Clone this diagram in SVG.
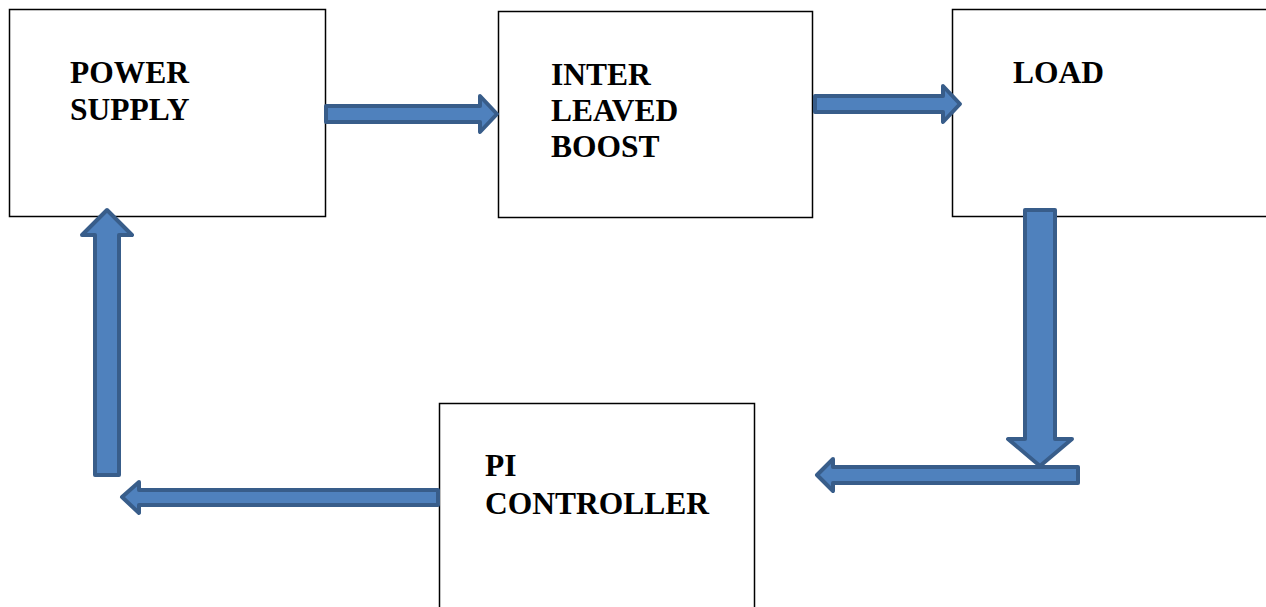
<svg xmlns="http://www.w3.org/2000/svg" width="1266" height="607" viewBox="0 0 1266 607">
  <style>
    .box { fill: #ffffff; stroke: #000000; stroke-width: 1.5; }
    .lbl { font-family: "Liberation Serif", "Times New Roman", serif; font-weight: bold; font-size: 31.5px; fill: #000000; }
    .arrow { fill: #4f81bd; stroke: #385d8a; stroke-width: 4; stroke-linejoin: round; }
  </style>
  <rect width="1266" height="607" fill="#ffffff"/>

  <g id="power-supply">
    <rect class="box" x="9.5" y="9.5" width="316" height="207"/>
    <text class="lbl" x="70" y="83">POWER</text>
    <text class="lbl" x="70" y="120">SUPPLY</text>
  </g>

  <g id="interleaved-boost">
    <rect class="box" x="498.5" y="11.5" width="314" height="206"/>
    <text class="lbl" x="551" y="85">INTER</text>
    <text class="lbl" x="551" y="121">LEAVED</text>
    <text class="lbl" x="551" y="157">BOOST</text>
  </g>

  <g id="load">
    <rect class="box" x="952.5" y="9.5" width="330" height="207"/>
    <text class="lbl" x="1013" y="83">LOAD</text>
  </g>

  <g id="pi-controller">
    <rect class="box" x="439.5" y="403.5" width="315" height="220"/>
    <text class="lbl" x="485" y="476">PI</text>
    <text class="lbl" x="485" y="514">CONTROLLER</text>
  </g>

  <g id="connectors">
    <!-- power supply to boost -->
    <polygon class="arrow" points="326,106 480,106 480,96 497,114 480,132 480,122 326,122"/>
    <!-- boost to load -->
    <polygon class="arrow" points="815,96 943,96 943,86 960,104 943,122 943,112 815,112"/>
    <!-- load feedback down -->
    <polygon class="arrow" points="1025,210 1055,210 1055,439 1072,439 1040,466 1008,439 1025,439"/>
    <!-- feedback toward controller -->
    <polygon class="arrow" points="1078,467 833,467 833,459 817,475 833,491 833,483 1078,483"/>
    <!-- controller back to left -->
    <polygon class="arrow" points="438,490 139,490 139,482 122,497 139,513 139,505 438,505"/>
    <!-- up into power supply -->
    <polygon class="arrow" points="95,475 95,235 82,235 107,210 132,235 119,235 119,475"/>
  </g>
</svg>
